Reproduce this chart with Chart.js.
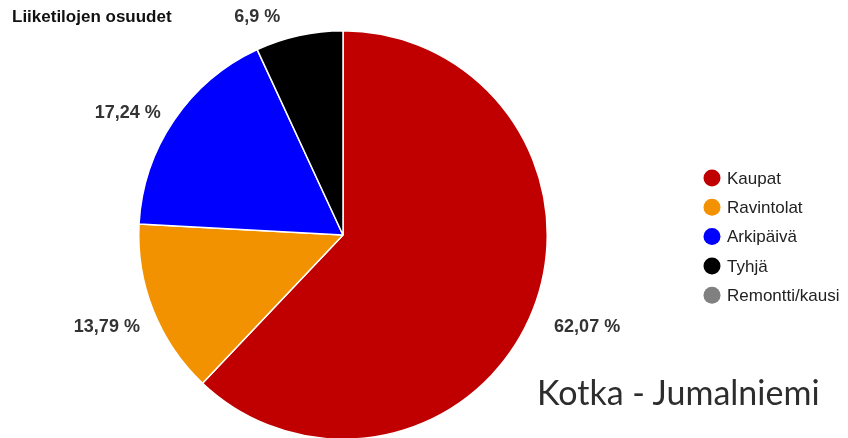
<!DOCTYPE html>
<html>
<head>
<meta charset="utf-8">
<script src="https://cdn.jsdelivr.net/npm/chart.js@4"></script>
<style>
  html, body { margin: 0; padding: 0; background: #fff; }
  #wrap { position: relative; width: 848px; height: 438px; overflow: hidden; }
  #wrap canvas { position: absolute; left: 0; top: 0; }
  #place {
    position: absolute; left: 537px; top: 371px;
    font-family: Lato, sans-serif; font-size: 34px; color: #2d2d2d;
    white-space: nowrap;
  }
</style>
</head>
<body>
<div id="wrap">
  <canvas id="chart" width="848" height="460"></canvas>
  <div id="place">Kotka - Jumalniemi</div>
</div>
<script>
// data
const chartTitle = 'Liiketilojen osuudet';
const categories = ['Kaupat', 'Ravintolat', 'Arkipäivä', 'Tyhjä', 'Remontti/kausi'];
const shares = [62.07, 13.79, 17.24, 6.9, 0];
const colors = ['#c00000', '#f39200', '#0000ff', '#000000', '#808080'];

function fmtPct(v) {
    return String(v).replace('.', ',') + ' %';
}

// small hand tweaks so the outside labels sit like the original layout
const labelNudge = [[6, -3], [2, -3], [-3, 22], [0, 0]];

// title, outside percentage labels and legend
const decorations = {
    id: 'decorations',
    afterDraw(chart) {
        const ctx = chart.ctx;
        ctx.save();

        ctx.fillStyle = '#111';
        ctx.font = 'bold 17px "Liberation Sans", Arial, sans-serif';
        ctx.textAlign = 'left';
        ctx.textBaseline = 'middle';
        ctx.fillText(chartTitle, 12, 17);

        // percentages outside the slices
        const meta = chart.getDatasetMeta(0);
        ctx.font = 'bold 18px "Liberation Sans", Arial, sans-serif';
        ctx.fillStyle = '#333';
        ctx.textAlign = 'center';
        meta.data.forEach((arc, i) => {
            if (!shares[i]) return;
            const mid = (arc.startAngle + arc.endAngle) / 2;
            const r = arc.outerRadius * 1.255;
            let x = arc.x + Math.cos(mid) * r + labelNudge[i][0];
            let y = arc.y + Math.sin(mid) * r + labelNudge[i][1];
            if (y < 17) {
                // keep the top label inside the canvas, left of the slice
                y = 17;
                x = arc.x + Math.cos(mid) * arc.outerRadius * 1.04 - 40;
            }
            ctx.fillText(fmtPct(shares[i]), x, y);
        });

        // legend
        ctx.font = '17px "Liberation Sans", Arial, sans-serif';
        ctx.textAlign = 'left';
        categories.forEach((label, i) => {
            const y = 178 + i * 29.3;
            ctx.beginPath();
            ctx.fillStyle = colors[i];
            ctx.arc(712, y, 8.5, 0, Math.PI * 2);
            ctx.fill();
            ctx.fillStyle = '#222';
            ctx.fillText(label, 727, y + 1);
        });
        ctx.restore();
    }
};

new Chart(document.getElementById('chart'), {
    type: 'pie',
    data: {
        labels: categories,
        datasets: [{
            data: shares,
            backgroundColor: colors,
            borderColor: '#ffffff',
            borderWidth: 1.5
        }]
    },
    options: {
        responsive: false,
        animation: false,
        layout: { padding: { left: 138, right: 300, top: 30, bottom: 20 } },
        plugins: {
            legend: { display: false },
            tooltip: { enabled: false }
        }
    },
    plugins: [decorations]
});
</script>
</body>
</html>
